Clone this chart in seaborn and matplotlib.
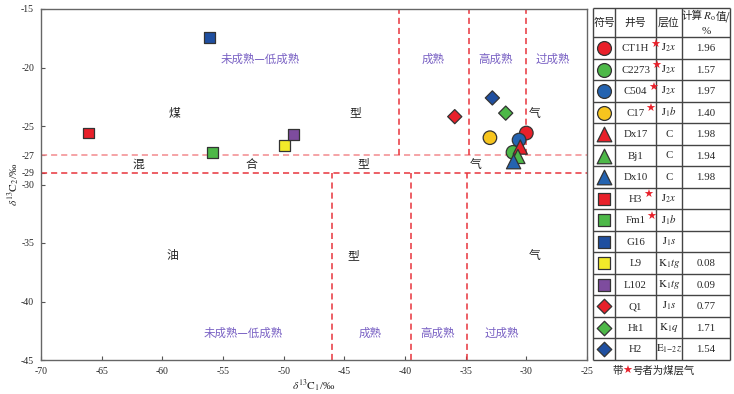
import matplotlib
matplotlib.use("Agg")
import matplotlib.pyplot as plt
import seaborn as sns
import pandas as pd
from matplotlib.offsetbox import TextArea, HPacker, AnnotationBbox

# ---------------- data ----------------
wells = ["CT1H", "C2273", "C504", "C17", "Dx17", "Bj1", "Dx10", "H3", "Fm1",
         "G16", "L9", "L102", "Q1", "Ht1", "H2"]
layers = [r"$\mathrm{J}_2x$", r"$\mathrm{J}_2x$", r"$\mathrm{J}_2x$", r"$\mathrm{J}_1b$",
          "C", "C", "C", r"$\mathrm{J}_2x$", r"$\mathrm{J}_1b$", r"$\mathrm{J}_1s$",
          r"$\mathrm{K}_1tg$", r"$\mathrm{K}_1tg$", r"$\mathrm{J}_1s$", r"$\mathrm{K}_1q$",
          r"$\mathrm{E}_{1\mathrm{-}2}z$"]
ro_values = ["1.96", "1.57", "1.97", "1.40", "1.98", "1.94", "1.98", "", "", "",
             "0.08", "0.09", "0.77", "1.71", "1.54"]
coal_bed = [True, True, True, True, False, False, False, True, True, False,
            False, False, False, False, False]
d13c1 = [-30.0, -31.1, -30.6, -33.0, -30.5, -30.7, -31.05, -66.1, -55.9,
         -56.15, -49.9, -49.2, -35.9, -31.7, -32.8]
d13c2 = [-25.6, -27.25, -26.2, -26.0, -26.8, -27.6, -28.05, -25.6, -27.3,
         -17.4, -26.7, -25.7, -24.2, -23.9, -22.6]
shapes = ["o", "o", "o", "o", "^", "^", "^", "s", "s", "s", "s", "s", "D", "D", "D"]
colors = ["#e8202a", "#4db848", "#2463b0", "#f7c51e", "#e8202a", "#4db848", "#2463b0",
          "#e8202a", "#4db848", "#1f4fa0", "#f2ea2a", "#7e4c9e", "#e8202a", "#4db848",
          "#1f4fa0"]
shape_size = {"o": 95, "^": 105, "s": 62, "D": 52}

xticks = [-70, -65, -60, -55, -50, -45, -40, -35, -30, -25]
yticks = [-15, -20, -25, -27.5, -29, -30, -35, -40, -45]
ytick_labels = ["-15", "-20", "-25", "-27", "-29", "-30", "-35", "-40", "-45"]

coal_limit = -27.5
oil_limit = -29.0
upper_splits = [-40.5, -34.7, -30.0]
lower_splits = [-46.0, -39.5, -34.9]

maturity_labels = ["未成熟—低成熟", "成熟", "高成熟", "过成熟"]
upper_maturity_x = [-51.9, -37.7, -32.5, -27.8]
upper_maturity_y = -19.3
lower_maturity_x = [-53.3, -42.9, -37.3, -32.0]
lower_maturity_y = -42.7

type_labels = [("煤", -59.0, -23.9), ("型", -44.1, -23.9), ("气", -29.3, -23.9),
               ("混", -62.0, -28.25), ("合", -52.7, -28.25), ("型", -43.4, -28.25),
               ("气", -34.2, -28.25),
               ("油", -59.2, -36.1), ("型", -44.3, -36.1), ("气", -29.3, -36.1)]

# ---------------- style ----------------
sns.set_style("white")
plt.rcParams["font.family"] = ["Liberation Serif", "Noto Sans CJK SC", "DejaVu Sans"]
plt.rcParams["mathtext.fontset"] = "stix"
plt.rcParams["axes.unicode_minus"] = False

W, H = 734, 394
fig = plt.figure(figsize=(W / 100, H / 100), dpi=100)
ax = fig.add_axes([41 / W, 1 - 360 / H, 546 / W, 351 / H])

df = pd.DataFrame({"well": wells, "c1": d13c1, "c2": d13c2})
sns.scatterplot(data=df, x="c1", y="c2", hue="well", style="well", size="well",
                palette=dict(zip(wells, colors)),
                markers=dict(zip(wells, shapes)),
                sizes={w: shape_size[m] for w, m in zip(wells, shapes)},
                edgecolor="#333333", linewidth=0.9, legend=False, ax=ax, zorder=4)

red = "#e8343c"
dash = (0, (4, 2.6))
ax.axhline(coal_limit, color="#f28a8e", lw=1.1, ls=dash, zorder=2)
ax.axhline(oil_limit, color=red, lw=1.1, ls=dash, zorder=2)
ax.vlines(upper_splits, coal_limit, -15, color=red, lw=1.1, ls=dash, zorder=2)
ax.vlines(lower_splits, -45, oil_limit, color=red, lw=1.1, ls=dash, zorder=2)

purple = "#7a62c4"
cjk = ["Noto Sans CJK SC", "DejaVu Sans"]
for lab, x in zip(maturity_labels, upper_maturity_x):
    ax.text(x, upper_maturity_y, lab, color=purple, fontsize=8.3, ha="center", va="center",
            family=cjk)
for lab, x in zip(maturity_labels, lower_maturity_x):
    ax.text(x, lower_maturity_y, lab, color=purple, fontsize=8.3, ha="center", va="center",
            family=cjk)
for lab, x, y in type_labels:
    ax.text(x, y, lab, color="#222222", fontsize=8.5, ha="center", va="center",
            family=cjk)

ax.set_xlim(-70, -25)
ax.set_ylim(-45, -15)
ax.set_xticks(xticks)
ax.set_xticklabels([str(t) for t in xticks])
ax.set_yticks(yticks)
ax.set_yticklabels(ytick_labels)
ax.tick_params(direction="in", length=3, width=0.8, color="#555555",
               labelsize=7, pad=5, left=True, bottom=True)
for s in ax.spines.values():
    s.set_color("#666666")
    s.set_linewidth(1.0)
ax.set_xlabel(r"$\delta^{13}\mathrm{C}_1$/‰", fontsize=8.2, labelpad=1)
ax.set_ylabel(r"$\delta^{13}\mathrm{C}_2$/‰", fontsize=8.2, labelpad=0)

# ---------------- table ----------------
tab = fig.add_axes([593 / W, 1 - 360 / H, 137 / W, 352 / H])
tab.set_xlim(593, 730)
tab.set_ylim(360, 8)
tab.axis("off")
col_edges = [593, 615, 656, 682, 730]
top, head_bot, bot = 8, 37.3, 360
n = len(wells)
rh = (bot - head_bot) / n
row_edges = [top, head_bot] + [head_bot + rh * (i + 1) for i in range(n)]
lc = "#444444"
tab.hlines(row_edges, col_edges[0], col_edges[-1], color=lc, lw=1.0, clip_on=False)
tab.vlines(col_edges, top, bot, color=lc, lw=1.0, clip_on=False)

hy = (top + head_bot) / 2
tab.text(604, hy, "符号", fontsize=7.8, ha="center", va="center", family=cjk)
tab.text(635.5, hy, "井号", fontsize=7.8, ha="center", va="center", family=cjk)
tab.text(669, hy, "层位", fontsize=7.8, ha="center", va="center", family=cjk)
hbox = HPacker(children=[TextArea("计算", textprops=dict(fontsize=7.6, family=cjk)),
                         TextArea(r"$R_\mathrm{o}$", textprops=dict(fontsize=8.1)),
                         TextArea("值/", textprops=dict(fontsize=7.6, family=cjk))],
               align="baseline", pad=0, sep=0)
tab.add_artist(AnnotationBbox(hbox, (706, 16.5), xycoords="data", frameon=False,
                              box_alignment=(0.5, 0.5), annotation_clip=False))
tab.text(706, 31.0, "%", fontsize=8, ha="center", va="center")

centers = [head_bot + rh * (i + 0.5) for i in range(n)]
for i in range(n):
    cy = centers[i]
    tab.scatter([604], [cy], marker=shapes[i], s=shape_size[shapes[i]] * 1.05, c=colors[i],
                edgecolors="#333333", linewidths=0.9, clip_on=False, zorder=3)
    t = tab.text(635.5, cy + 0.5, wells[i], fontsize=7.8, ha="center", va="center")
    if coal_bed[i]:
        tab.annotate("★", xy=(1, 1), xycoords=t, xytext=(0.6, -0.5), textcoords="offset points",
                     ha="left", va="center", color="#e8202a", fontsize=8,
                     family=["DejaVu Sans"])
    tab.text(669, cy, layers[i], fontsize=7.8, ha="center", va="center")
    if ro_values[i]:
        tab.text(706, cy + 0.5, ro_values[i], fontsize=7.8, ha="center", va="center")

fbox = HPacker(children=[TextArea("带", textprops=dict(fontsize=7.5, family=cjk)),
                         TextArea("★", textprops=dict(fontsize=8, color="#e8202a",
                                                       family=["DejaVu Sans"])),
                         TextArea("号者为煤层气", textprops=dict(fontsize=7.5, family=cjk))],
               align="center", pad=0, sep=0)
fig.add_artist(AnnotationBbox(fbox, (653.5 / W, 1 - 371 / H), xycoords="figure fraction",
                              frameon=False, box_alignment=(0.5, 0.5)))

fig.savefig("out.png", dpi=100)
